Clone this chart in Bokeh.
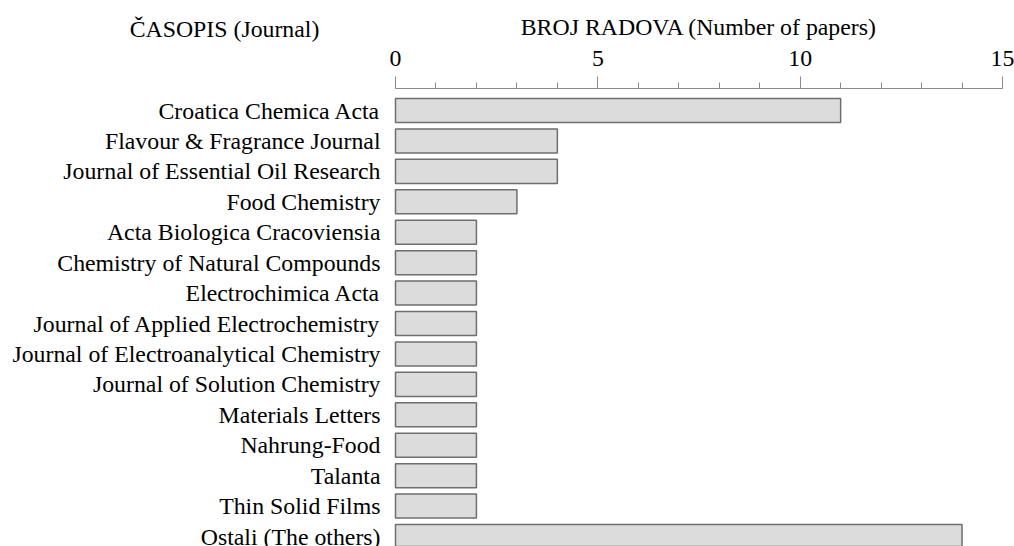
from bokeh.plotting import figure
from bokeh.models import Range1d, SingleIntervalTicker, Label, LabelSet, ColumnDataSource
from bokeh.core.properties import value
from bokeh.embed import file_html
from bokeh.resources import INLINE

journals = [
    "Croatica Chemica Acta",
    "Flavour & Fragrance Journal",
    "Journal of Essential Oil Research",
    "Food Chemistry",
    "Acta Biologica Cracoviensia",
    "Chemistry of Natural Compounds",
    "Electrochimica Acta",
    "Journal of Applied Electrochemistry",
    "Journal of Electroanalytical Chemistry",
    "Journal of Solution Chemistry",
    "Materials Letters",
    "Nahrung-Food",
    "Talanta",
    "Thin Solid Films",
    "Ostali (The others)",
]
papers = [11, 4, 4, 3, 2, 2, 2, 2, 2, 2, 2, 2, 2, 2, 14]
x_title = "BROJ RADOVA (Number of papers)"
y_title = "ČASOPIS (Journal)"

FONT = "Liberation Serif"
FS = "23.8px"

W, H = 1014, 546
X0_PX, X15_PX = 395, 1002          # page x of value 0 and 15
sx = (X15_PX - X0_PX) / 15.0        # px per unit
ROW0_PX, PITCH = 110, 30.43         # centre of first row, row pitch
AXIS_PX = 88                        # page y of the value axis

pos = list(range(len(journals)))
src = ColumnDataSource(dict(y=pos, v=papers, name=journals, zero=[0] * len(pos)))

p = figure(width=W, height=H, output_backend="svg", toolbar_location=None,
           x_range=Range1d(-X0_PX / sx, (W - X0_PX) / sx),
           y_range=Range1d((H - ROW0_PX) / PITCH, -ROW0_PX / PITCH),
           x_axis_location="above", y_axis_location=None,
           min_border=0)
p.outline_line_color = None
p.grid.visible = False
p.background_fill_color = "white"
p.border_fill_color = "white"

p.hbar(y="y", right="v", left=0, height=0.79, source=src,
       fill_color="#dcdcdc", line_color="#6e6e6e", line_width=1.5)

xa = p.xaxis[0]
xa.fixed_location = (AXIS_PX - ROW0_PX) / PITCH
xa.bounds = (0, 15)
xa.ticker = SingleIntervalTicker(interval=5, num_minor_ticks=5)
xa.axis_label = x_title
xa.axis_label_text_font = FONT
xa.axis_label_text_font_size = FS
xa.axis_label_text_font_style = "normal"
xa.axis_label_text_color = "black"
xa.axis_label_standoff = 8
xa.major_label_text_font = FONT
xa.major_label_text_font_size = FS
xa.major_label_text_color = "black"
xa.major_label_standoff = 11
xa.axis_line_color = "#8a8a8a"
xa.axis_line_width = 1
xa.major_tick_line_color = "#8a8a8a"
xa.minor_tick_line_color = "#8a8a8a"
xa.major_tick_out = 12
xa.major_tick_in = 0
xa.minor_tick_out = 6
xa.minor_tick_in = 0

labels = LabelSet(x="zero", y="y", text="name", source=src, x_offset=-15,
                  text_font=value(FONT), text_font_size=value(FS),
                  text_align="right", text_baseline="middle", text_color="black")
p.add_layout(labels)

p.add_layout(Label(x=(224 - X0_PX) / sx, y=(28 - ROW0_PX) / PITCH, text=y_title,
                   text_font=FONT, text_font_size=FS,
                   text_align="center", text_baseline="middle", text_color="black"))

open("out.html", "w").write(file_html(p, INLINE))
